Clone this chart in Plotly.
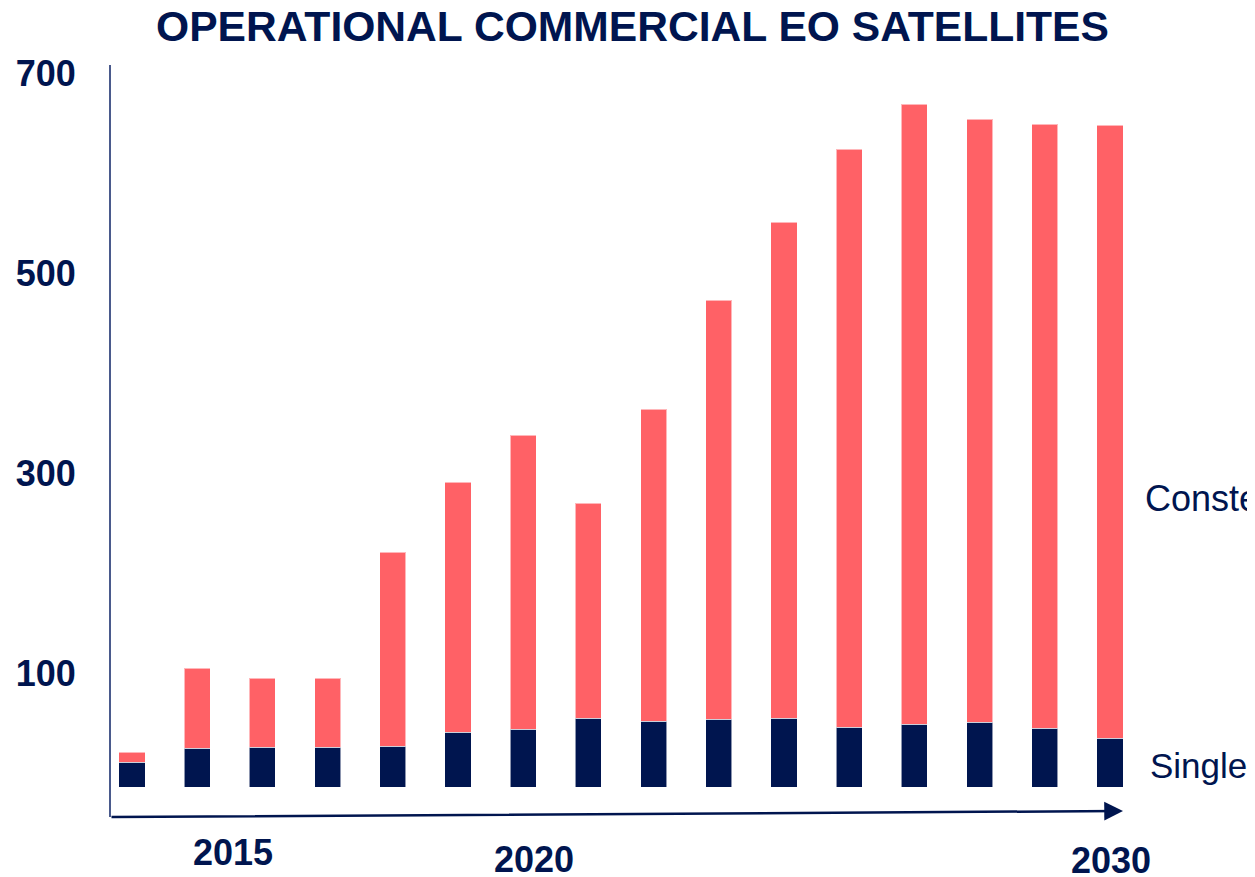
import plotly.graph_objects as go

# Data
years = [2015, 2016, 2017, 2018, 2019, 2020, 2021, 2022, 2023, 2024, 2025, 2026, 2027, 2028, 2029, 2030]
single = [25, 39, 40, 40, 41, 55, 58, 69, 66, 68, 69, 60, 63, 65, 59, 49]
constellations = [10, 80, 69, 69, 194, 250, 294, 215, 312, 419, 496, 578, 620, 603, 604, 613]
y_ticks = [100, 300, 500, 700]
x_labels = ["2015", "2020", "2030"]

NAVY = "#00154F"
CORAL = "#FF6166"
FONT = "Liberation Sans, Arial, sans-serif"

W, H = 1255, 877
OFF = 8  # page body margin: figure is drawn 8px right/down in the browser


def fx(px):
    return px - OFF


def fy(py):
    return py - OFF


# plot area (in screenshot pixels) : x 111..1123, y 65..817
L = fx(111)
T = fy(65)
R = W - fx(1123)
B = H - fy(817)
plot_w = W - L - R
plot_h = H - T - B
px_per_year = 65.2
x0 = 2015 - (132 - 111) / px_per_year
x1 = x0 + plot_w / px_per_year
y0 = -30
y1 = y0 + plot_h  # 1 px per unit

fig = go.Figure()
fig.add_trace(go.Bar(
    x=years, y=single, name="Single",
    marker=dict(color=NAVY, line=dict(color="rgba(255,255,255,0.55)", width=1)),
))
fig.add_trace(go.Bar(
    x=years, y=constellations, name="Constellations",
    marker=dict(color=CORAL, line=dict(color="rgba(255,255,255,0.55)", width=1)),
))

fig.update_layout(
    barmode="stack",
    bargap=0.6,
    width=W, height=H, autosize=False,
    margin=dict(l=L, r=R, t=T, b=B, pad=0, autoexpand=False),
    paper_bgcolor="white", plot_bgcolor="white",
    showlegend=False,
    title=dict(
        text="<b>OPERATIONAL COMMERCIAL EO SATELLITES</b>",
        font=dict(family=FONT, size=42.6, color=NAVY),
        x=fx(632.5) / W, xref="container", xanchor="center",
        y=1 - fy(26) / H, yref="container", yanchor="middle",
    ),
    xaxis=dict(
        range=[x0, x1], showgrid=False, zeroline=False, showline=False,
        showticklabels=False, ticks="", automargin=False,
    ),
    yaxis=dict(
        range=[y0, y1], showgrid=False, zeroline=False, automargin=False,
        showline=True, linecolor="#4A5A8C", linewidth=2,
        tickvals=y_ticks, ticktext=[f"<b>{v}</b>" for v in y_ticks],
        tickfont=dict(family=FONT, size=36, color=NAVY),
        ticks="", ticklabelstandoff=26, ticklabelshift=-14,
    ),
)

# x axis drawn as an arrow
tail_x = x0 - 1 / px_per_year
fig.add_annotation(
    x=x1, y=-24, xref="x", yref="y",
    ax=tail_x, ay=-30, axref="x", ayref="y",
    showarrow=True, arrowhead=2, arrowsize=1.5, arrowwidth=2.5,
    arrowcolor=NAVY, text="",
)

# year labels under the axis
label_pos = [(233, 852), (534, 859), (1111, 860)]
for txt, (px, py) in zip(x_labels, label_pos):
    fig.add_annotation(
        text=f"<b>{txt}</b>", x=(fx(px) - L) / plot_w, y=(H - B - fy(py)) / plot_h,
        xref="paper", yref="paper", xanchor="center", yanchor="middle",
        showarrow=False, font=dict(family=FONT, size=36, color=NAVY),
    )

# series labels on the right
fig.add_annotation(
    text="Constellations", x=(fx(1143) - L) / plot_w, y=(H - B - fy(498)) / plot_h,
    xref="paper", yref="paper", xanchor="left", yanchor="middle",
    showarrow=False, font=dict(family=FONT, size=36, color=NAVY),
)
fig.add_annotation(
    text="Single satellites", x=(fx(1148) - L) / plot_w, y=(H - B - fy(765)) / plot_h,
    xref="paper", yref="paper", xanchor="left", yanchor="middle",
    showarrow=False, font=dict(family=FONT, size=35, color=NAVY),
)

fig.write_html("out.html")
